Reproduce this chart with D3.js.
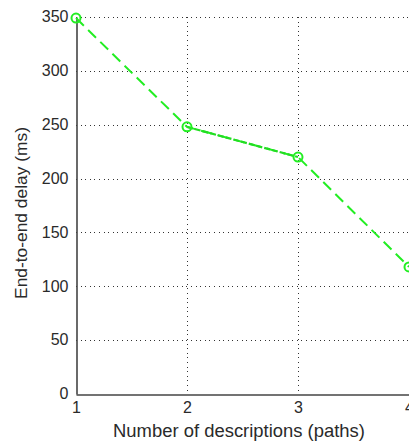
<!DOCTYPE html>
<html>
<head>
<meta charset="utf-8">
<script src="https://cdn.jsdelivr.net/npm/d3@7"></script>
<style>
  html, body { margin: 0; padding: 0; background: #fff; }
  svg { display: block; }
  text { font-family: "Liberation Sans", Arial, sans-serif; fill: #2a2a2a; }
</style>
</head>
<body>
<svg id="chart" width="409" height="444"></svg>
<script>
// Number of descriptions (paths) vs. end-to-end delay
const paths = [1, 2, 3, 4];
const delayMs = [349, 248, 220, 118];
const yTicks = [0, 50, 100, 150, 200, 250, 300, 350];
const xTicks = [1, 2, 3, 4];
const xTitle = "Number of descriptions (paths)";
const yTitle = "End-to-end delay (ms)";

const svg = d3.select("#chart");
const plotLeft = 76, plotRight = 409, plotTop = 17, plotBottom = 394;

const x = d3.scaleLinear().domain([1, 4]).range([plotLeft, plotRight]);
const y = d3.scaleLinear().domain([0, 350]).range([plotBottom, plotTop]);

// dotted grid
const grid = svg.append("g").attr("stroke", "#333").attr("stroke-width", 1)
  .attr("stroke-dasharray", "1,3.6").attr("shape-rendering", "crispEdges");
grid.selectAll("line.h").data(yTicks.filter(d => d > 0)).join("line")
  .attr("class", "h")
  .attr("x1", plotLeft).attr("x2", plotRight)
  .attr("y1", d => Math.round(y(d)) + 0.5).attr("y2", d => Math.round(y(d)) + 0.5);
grid.selectAll("line.v").data(xTicks.filter(d => d > 1)).join("line")
  .attr("class", "v")
  .attr("y1", plotTop).attr("y2", plotBottom)
  .attr("x1", d => Math.round(x(d)) + 0.5).attr("x2", d => Math.round(x(d)) + 0.5);

// axes
const fmt = d3.format("d");
const yAxis = d3.axisLeft(y).tickValues(yTicks).tickFormat(fmt).tickSize(0).tickPadding(8);
const xAxis = d3.axisBottom(x).tickValues(xTicks).tickFormat(fmt).tickSize(0).tickPadding(7);

const gy = svg.append("g").attr("transform", `translate(${plotLeft + 0.5},0)`).call(yAxis);
const gx = svg.append("g").attr("transform", `translate(0,${plotBottom + 0.5})`).call(xAxis);
[gy, gx].forEach(g => {
  g.select(".domain").attr("stroke", "#444").attr("stroke-width", 1.6);
  g.selectAll("text").attr("font-size", 16).attr("fill", "#2a2a2a")
    .attr("font-family", "'Liberation Sans', Arial, sans-serif");
});
gy.selectAll(".tick text").attr("dy", "0.3em");

// axis titles, sized to their span
function fitText(sel, width) {
  const w = sel.node().getComputedTextLength();
  const fs = parseFloat(sel.attr("font-size"));
  sel.attr("font-size", fs * width / w);
}
const xt = svg.append("text").attr("x", 239).attr("y", 437).attr("text-anchor", "middle")
  .attr("font-size", 16).text(xTitle);
fitText(xt, 252);
const yt = svg.append("text").attr("transform", "translate(27,213) rotate(-90)")
  .attr("text-anchor", "middle").attr("font-size", 16).text(yTitle);
fitText(yt, 172);

// data line
const pts = paths.map((p, i) => [p, delayMs[i]]);
const line = d3.line().x(d => x(d[0])).y(d => y(d[1]));
svg.append("path").datum(pts).attr("d", line)
  .attr("fill", "none").attr("stroke", "#22ee22").attr("stroke-width", 2)
  .attr("stroke-dasharray", "11,6");
// denser overdraw on the middle segment
svg.append("path").datum(pts.slice(1, 3)).attr("d", line)
  .attr("fill", "none").attr("stroke", "#22dd22").attr("stroke-width", 2.2)
  .attr("stroke-dasharray", "6,2");

svg.append("g").selectAll("circle").data(pts).join("circle")
  .attr("cx", d => x(d[0])).attr("cy", d => y(d[1])).attr("r", 4.5)
  .attr("fill", "none").attr("stroke", "#22ee22").attr("stroke-width", 2);
</script>
</body>
</html>
